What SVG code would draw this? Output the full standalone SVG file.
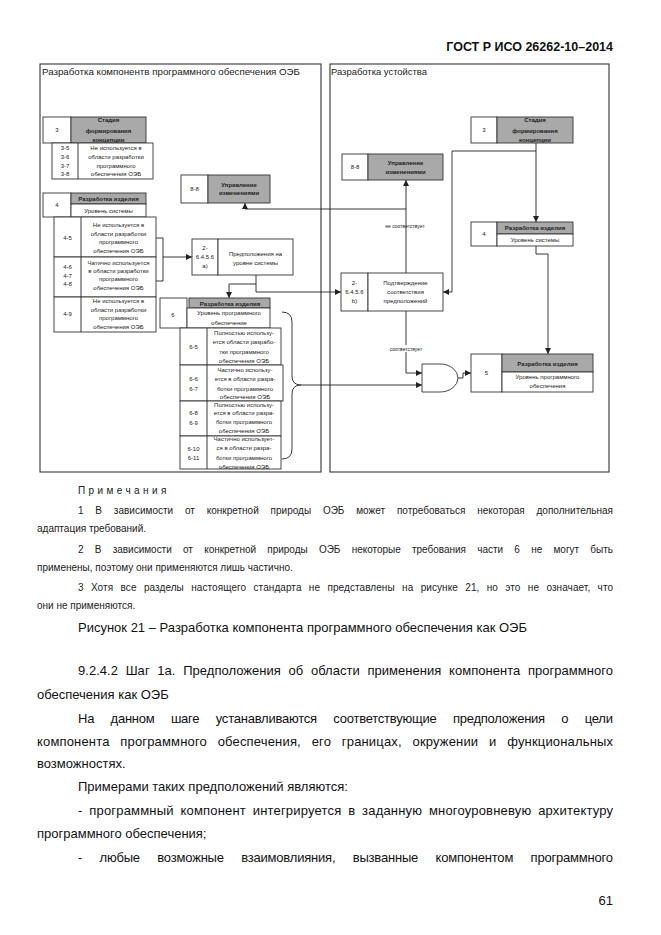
<svg xmlns="http://www.w3.org/2000/svg" width="661" height="935" viewBox="0 0 661 935">
<defs>
<marker id="ah" markerWidth="6" markerHeight="6" refX="6" refY="3" orient="auto" markerUnits="userSpaceOnUse"><path d="M0,0 L6,3 L0,6 z" fill="#222"/></marker>
<style>
.bx{fill:#fff;stroke:#333;stroke-width:0.9}
.gr{fill:#a9a9a9;stroke:#333;stroke-width:0.9}
.fr{fill:none;stroke:#333;stroke-width:1.1}
.t{font-family:"Liberation Sans",Arial,sans-serif;font-size:6px;fill:#222;text-anchor:middle}
.b{font-family:"Liberation Sans",Arial,sans-serif;font-size:6px;font-weight:bold;fill:#222;text-anchor:middle}
.lbl{font-family:"Liberation Sans",Arial,sans-serif;font-size:5px;fill:#222;text-anchor:middle}
.ttl{font-family:"Liberation Sans",Arial,sans-serif;font-size:9.5px;fill:#222}
.c{fill:none;stroke:#222;stroke-width:0.9}
.ca{fill:none;stroke:#222;stroke-width:0.9;marker-end:url(#ah)}
.n{font-family:"Liberation Sans",Arial,sans-serif;font-size:10px;fill:#222}
.p{font-family:"Liberation Sans",Arial,sans-serif;font-size:13px;fill:#111}
</style>
</defs>
<rect width="661" height="935" fill="#fff"/>
<text x="613" y="51" font-family="Liberation Sans,Arial,sans-serif" font-size="12.5" font-weight="bold" text-anchor="end" fill="#111">ГОСТ Р ИСО 26262-10–2014</text>

<g id="frames">
<rect class="fr" x="40" y="64" width="281" height="408"/>
<text class="ttl" x="42" y="75" textLength="258" lengthAdjust="spacingAndGlyphs">Разработка компонентв программного обеспечения ОЭБ</text>
<rect class="fr" x="330" y="64" width="279" height="408"/>
<text class="ttl" x="331" y="75" textLength="96" lengthAdjust="spacingAndGlyphs">Разработка устойства</text>
</g>

<g id="connectors">
<path class="c" d="M156,238 H163 V281 H156"/>
<path class="ca" d="M163,257 H192"/>
<path class="ca" d="M256,275 V292 H341"/>
<path class="ca" d="M256,284 H229 V298"/>
<path class="ca" d="M536,143 V222"/>
<path class="ca" d="M536,151 H452 V292 H443"/>
<path class="ca" d="M536,246 V254 H548 V354"/>
<path class="ca" d="M406,273 V180"/>
<path class="ca" d="M406,209 H245 V203"/>
<path class="ca" d="M406,311 V373 H422"/>
<path class="c" d="M282,312 Q292,312 292,322 V376 Q292,385 301,385 Q292,385 292,394 V449 Q292,459 282,459"/>
<path class="ca" d="M301,385 H422"/>
<path class="ca" d="M458,378 H463 V373 H471"/>
<text class="lbl" x="405" y="227.5">не соответствует</text>
<rect x="386" y="345" width="40" height="7" fill="#fff"/>
<text class="lbl" x="406" y="350.5">соответствует</text>
</g>

<g id="n3-left">
<rect class="bx" x="43" y="117" width="28" height="26"/>
<rect class="gr" x="71" y="117" width="75" height="26"/>
<text class="t" x="57" y="132">3</text>
<text class="b" x="108.5" y="122">Стадия</text>
<text class="b" x="108.5" y="133">формирования</text>
<text class="b" x="108.5" y="142">концепции</text>
</g>
<g id="n3-5">
<rect class="bx" x="52" y="143" width="101" height="36"/>
<line class="c" x1="78" y1="143" x2="78" y2="179"/>
<text class="t" x="65" y="150">3-5</text>
<text class="t" x="65" y="159">3-6</text>
<text class="t" x="65" y="168">3-7</text>
<text class="t" x="65" y="176">3-8</text>
<text class="t" x="116" y="150">Не используется в</text>
<text class="t" x="116" y="159">области разработки</text>
<text class="t" x="116" y="168">программного</text>
<text class="t" x="116" y="176">обеспечения  ОЭБ</text>
</g>

<g id="n4-left">
<rect class="bx" x="43" y="193" width="28" height="24"/>
<rect class="gr" x="71" y="193" width="75" height="11"/>
<rect class="bx" x="71" y="204" width="75" height="13"/>
<text class="t" x="57" y="207">4</text>
<text class="b" x="108.5" y="200.5">Разработка изделия</text>
<text class="t" x="108.5" y="213">Уровень системы</text>
</g>
<g id="n4-5">
<rect class="bx" x="54" y="217" width="102" height="40"/>
<line class="c" x1="81" y1="217" x2="81" y2="257"/>
<text class="t" x="67.5" y="240">4-5</text>
<text class="t" x="118.5" y="227">Не используется в</text>
<text class="t" x="118.5" y="236">области разработки</text>
<text class="t" x="118.5" y="244">программного</text>
<text class="t" x="118.5" y="253">обеспечения  ОЭБ</text>
</g>
<g id="n4-6">
<rect class="bx" x="54" y="257" width="102" height="40"/>
<line class="c" x1="81" y1="257" x2="81" y2="297"/>
<text class="t" x="67.5" y="269">4-6</text>
<text class="t" x="67.5" y="278">4-7</text>
<text class="t" x="67.5" y="286">4-8</text>
<text class="t" x="118.5" y="265">Чатично используется</text>
<text class="t" x="118.5" y="273">в области разработки</text>
<text class="t" x="118.5" y="281">программного</text>
<text class="t" x="118.5" y="290">обеспечения  ОЭБ</text>
</g>
<g id="n4-9">
<rect class="bx" x="54" y="297" width="102" height="35"/>
<line class="c" x1="81" y1="297" x2="81" y2="332"/>
<text class="t" x="67.5" y="316">4-9</text>
<text class="t" x="118.5" y="303">Не используется в</text>
<text class="t" x="118.5" y="312">области разработки</text>
<text class="t" x="118.5" y="320">программного</text>
<text class="t" x="118.5" y="329">обеспечения  ОЭБ</text>
</g>

<g id="n8-8-left">
<rect class="bx" x="181" y="175" width="27" height="28"/>
<rect class="gr" x="208" y="175" width="62" height="28"/>
<text class="t" x="194.5" y="191">8-8</text>
<text class="b" x="239" y="187">Управление</text>
<text class="b" x="239" y="195">изменениями</text>
</g>

<g id="n2-a">
<rect class="bx" x="192" y="239" width="26" height="36"/>
<rect class="bx" x="218" y="239" width="75" height="36"/>
<text class="t" x="205" y="250">2-</text>
<text class="t" x="205" y="259">6.4.5.6</text>
<text class="t" x="205" y="268">a)</text>
<text class="t" x="255.5" y="256">Предположения на</text>
<text class="t" x="255.5" y="265">уровне системы</text>
</g>

<g id="n6">
<rect class="bx" x="160" y="298" width="27" height="30"/>
<rect class="gr" x="189" y="298" width="81" height="10"/>
<rect class="bx" x="187" y="308" width="83" height="20"/>
<text class="t" x="173" y="317">6</text>
<text class="b" x="230" y="305.5">Разработка изделия</text>
<text class="t" x="229" y="315">Уровень программного</text>
<text class="t" x="229" y="325">обеспечение</text>
</g>
<g id="n6-5">
<rect class="bx" x="180" y="328" width="101" height="37"/>
<line class="c" x1="207" y1="328" x2="207" y2="365"/>
<text class="t" x="193.5" y="349">6-5</text>
<text class="t" x="244" y="335">Полностью использу-</text>
<text class="t" x="244" y="344">ется области разрабо-</text>
<text class="t" x="244" y="354">тки программного</text>
<text class="t" x="244" y="363">обеспечения  ОЭБ</text>
</g>
<g id="n6-6">
<rect class="bx" x="180" y="365" width="103" height="36"/>
<line class="c" x1="207" y1="365" x2="207" y2="401"/>
<text class="t" x="193.5" y="381">6-6</text>
<text class="t" x="193.5" y="391">6-7</text>
<text class="t" x="245" y="372">Частично использу-</text>
<text class="t" x="245" y="381">ется в области разра-</text>
<text class="t" x="245" y="391">ботки программного</text>
<text class="t" x="245" y="399">обеспечения  ОЭБ</text>
</g>
<g id="n6-8">
<rect class="bx" x="180" y="401" width="101" height="35"/>
<line class="c" x1="207" y1="401" x2="207" y2="436"/>
<text class="t" x="193.5" y="415">6-8</text>
<text class="t" x="193.5" y="425">6-9</text>
<text class="t" x="244" y="407">Полностью использу-</text>
<text class="t" x="244" y="415">ется в области разра-</text>
<text class="t" x="244" y="424">ботки программного</text>
<text class="t" x="244" y="433">обеспечения  ОЭБ</text>
</g>
<g id="n6-10">
<rect class="bx" x="180" y="436" width="101" height="33"/>
<line class="c" x1="207" y1="436" x2="207" y2="469"/>
<text class="t" x="193.5" y="451">6-10</text>
<text class="t" x="193.5" y="460">6-11</text>
<text class="t" x="244" y="441">Частично использует-</text>
<text class="t" x="244" y="450">ся в области разра-</text>
<text class="t" x="244" y="460">ботки программного</text>
<text class="t" x="244" y="468.5">обеспечения  ОЭБ</text>
</g>

<g id="n3-right">
<rect class="bx" x="471" y="117" width="26" height="26"/>
<rect class="gr" x="497" y="117" width="76" height="26"/>
<text class="t" x="484" y="132">3</text>
<text class="b" x="535" y="122">Стадия</text>
<text class="b" x="535" y="133">формирования</text>
<text class="b" x="535" y="142">концепции</text>
</g>
<g id="n8-8-right">
<rect class="bx" x="342" y="154" width="26" height="26"/>
<rect class="gr" x="368" y="154" width="75" height="26"/>
<text class="t" x="355" y="169">8-8</text>
<text class="b" x="405.5" y="165">Управление</text>
<text class="b" x="405.5" y="174">изменениями</text>
</g>
<g id="n4-right">
<rect class="bx" x="471" y="222" width="26" height="24"/>
<rect class="gr" x="497" y="222" width="76" height="12"/>
<rect class="bx" x="497" y="234" width="76" height="12"/>
<text class="t" x="484" y="236">4</text>
<text class="b" x="535" y="230">Разработка изделия</text>
<text class="t" x="535" y="242">Уровень системы</text>
</g>
<g id="n2-b">
<rect class="bx" x="341" y="273" width="27" height="38"/>
<rect class="bx" x="368" y="273" width="75" height="38"/>
<text class="t" x="354.5" y="285">2-</text>
<text class="t" x="354.5" y="294">6.4.5.6</text>
<text class="t" x="354.5" y="303">b)</text>
<text class="t" x="405.5" y="285">Подтверждение</text>
<text class="t" x="405.5" y="294">соответствия</text>
<text class="t" x="405.5" y="303">предположений</text>
</g>
<g id="and-gate">
<path d="M422,364 H440 A18,14 0 0 1 440,392 H422 Z" fill="#fff" stroke="#333" stroke-width="0.9"/>
</g>
<g id="n5">
<rect class="bx" x="471" y="354" width="31" height="38"/>
<rect class="gr" x="502" y="354" width="91" height="18"/>
<rect class="bx" x="502" y="372" width="91" height="20"/>
<text class="t" x="486.5" y="375">5</text>
<text class="b" x="547.5" y="365.5">Разработка изделия</text>
<text class="t" x="547.5" y="379">Уровень программного</text>
<text class="t" x="547.5" y="388">обеспечения</text>
</g>

<g id="notes">
<text class="n" x="78" y="493.5" letter-spacing="3.4">Примечания</text>
<text class="n" x="78" y="513.5" word-spacing="9" textLength="535" lengthAdjust="spacing">1 В зависимости от конкретной природы ОЭБ может потребоваться некоторая дополнительная</text>
<text class="n" x="37" y="531.5">адаптация требований.</text>
<text class="n" x="78" y="552.5" word-spacing="8.5" textLength="535" lengthAdjust="spacing">2 В зависимости от конкретной природы ОЭБ некоторые требования части 6 не могут быть</text>
<text class="n" x="37" y="570.5">применены, поэтому они применяются лишь частично.</text>
<text class="n" x="78" y="590.5" word-spacing="4.5" textLength="535" lengthAdjust="spacing">3 Хотя все разделы настоящего стандарта не представлены на рисунке 21, но это не означает, что</text>
<text class="n" x="37" y="608.5">они не применяются.</text>
<text class="p" x="78" y="631.5" font-size="12.5">Рисунок 21 – Разработка компонента программного обеспечения как ОЭБ</text>
</g>

<g id="body">
<text class="p" x="78" y="674.5" word-spacing="4" textLength="535" lengthAdjust="spacing">9.2.4.2 Шаг 1а. Предположения об области применения компонента программного</text>
<text class="p" x="37" y="698.5">обеспечения как ОЭБ</text>
<text class="p" x="78" y="722.5" word-spacing="13" textLength="535" lengthAdjust="spacing">На данном шаге устанавливаются соответствующие предположения о цели</text>
<text class="p" x="37" y="745.5" word-spacing="7" textLength="576" lengthAdjust="spacing">компонента программного обеспечения, его границах, окружении и функциональных</text>
<text class="p" x="37" y="767.5">возможностях.</text>
<text class="p" x="78" y="790.5">Примерами таких предположений являются:</text>
<text class="p" x="78" y="814.5" word-spacing="3" textLength="535" lengthAdjust="spacing">-  программный компонент интегрируется в заданную многоуровневую архитектуру</text>
<text class="p" x="37" y="837.5">программного обеспечения;</text>
<text class="p" x="78" y="861.5" word-spacing="14" textLength="535" lengthAdjust="spacing">- любые возможные взаимовлияния, вызванные компонентом программного</text>
<text class="p" x="613" y="904.5" text-anchor="end">61</text>
</g>
</svg>
